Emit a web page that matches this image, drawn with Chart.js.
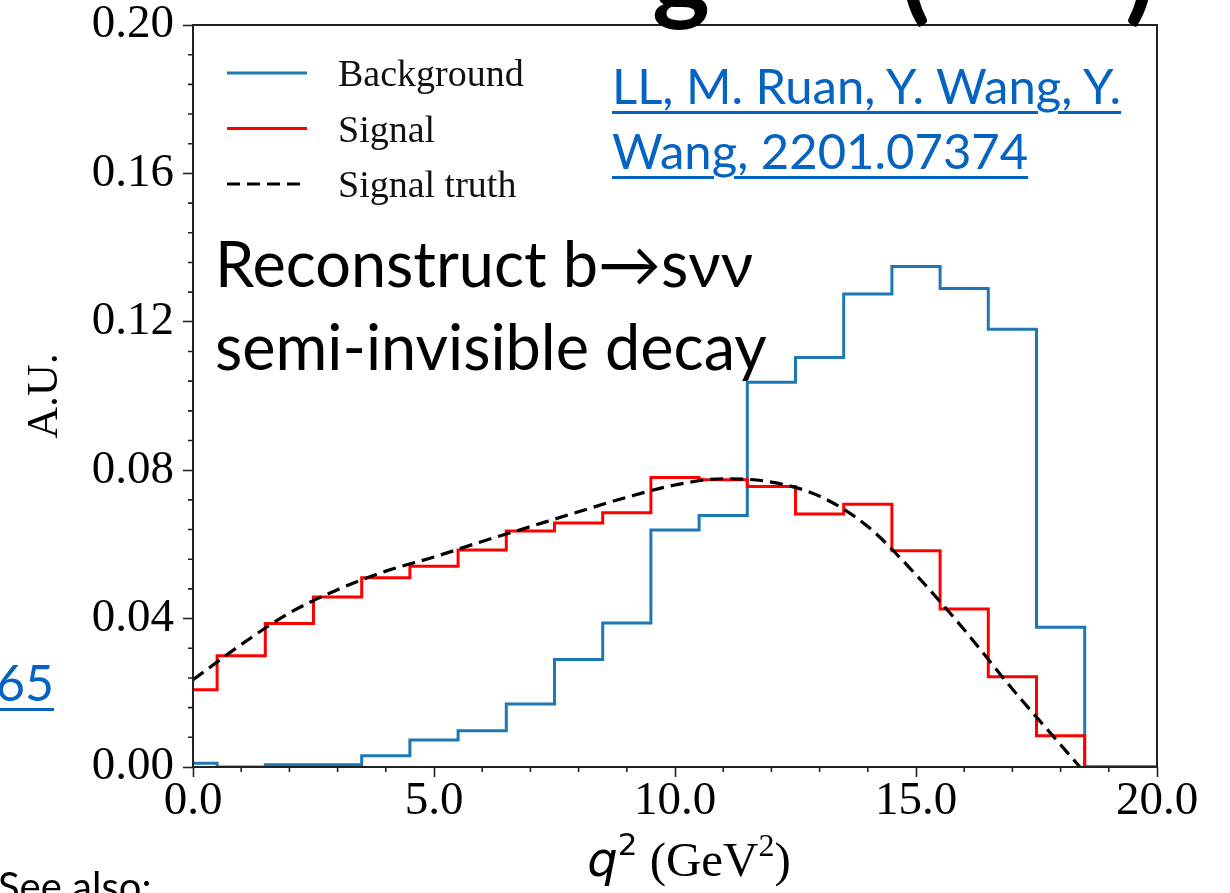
<!DOCTYPE html>
<html>
<head>
<meta charset="utf-8">
<script src="https://cdn.jsdelivr.net/npm/chart.js@4.4.0/dist/chart.umd.min.js"></script>
<style>
html, body { margin: 0; padding: 0; background: #fff; }
body { width: 1230px; height: 893px; position: relative; overflow: hidden; font-family: Lato, "Open Sans", sans-serif; }
#wrap { position: absolute; left: 0; top: 0; width: 1230px; height: 893px; }
.txt { position: absolute; white-space: nowrap; }
.link { color: #0563c1; text-decoration: underline; text-decoration-thickness: 3px; text-underline-offset: 7px; }
.head { font-weight: bold; font-size: 110px; line-height: 110px; top: -88px; color: #000; }
</style>
</head>
<body>
<div id="wrap"><canvas id="chart" width="1230" height="893"></canvas></div>

<!-- bits of the slide around the figure -->
<div class="txt head" style="left:652px">g</div>
<div class="txt head" style="left:900px">(</div>
<div class="txt head" style="left:1125px">)</div>
<div class="txt link" style="left:612px; top:53px; font-size:49px; line-height:65px">LL, M. Ruan, Y. Wang, Y.<br>Wang, 2201.07374</div>
<div class="txt" style="left:215px; top:221px; font-size:63px; line-height:83px; color:#000">Reconstruct b→sνν<br>semi-invisible decay</div>
<div class="txt link" style="left:-4px; top:650px; font-size:50px; line-height:65px">65</div>
<div class="txt" style="left:-2px; top:862px; font-size:40px; line-height:48px; color:#000">See also:</div>

<script>
// histogram bins are centred on integer q^2 values (edges at k +/- 0.5)
const binCenters = [0, 1, 2, 3, 4, 5, 6, 7, 8, 9, 10, 11, 12, 13, 14, 15, 16, 17, 18, 19, 20];
const background = [0.001, 0, 0.0006, 0.0006, 0.003, 0.0073, 0.0098, 0.017, 0.029, 0.0388, 0.0639, 0.0678,
    0.1037, 0.1104, 0.1275, 0.1349, 0.129, 0.118, 0.0377, 0, 0];
const signal = [0.0208, 0.0300, 0.0387, 0.0458, 0.0510, 0.0541, 0.0585, 0.0636, 0.0658, 0.0685, 0.0780, 0.0774,
    0.0756, 0.0682, 0.0708, 0.0583, 0.0426, 0.0243, 0.0084, 0, 0];

// dashed truth curve
const truthX = [0, 1, 2, 3, 4, 5, 6, 7, 8, 9, 10, 11, 12, 13, 14, 15, 16, 17, 18, 18.4];
const truthY = [0.0235, 0.0330, 0.0415, 0.0478, 0.0528, 0.0566, 0.0608, 0.0648, 0.0688, 0.0727, 0.0760, 0.0777,
    0.0768, 0.0730, 0.0648, 0.0518, 0.0370, 0.0210, 0.0060, 0];

const xTickValues = [0, 5, 10, 15, 20];
const yTickValues = [0, 0.04, 0.08, 0.12, 0.16, 0.20];

const serif = '"Liberation Serif", "DejaVu Serif", serif';
const mathSans = '"DejaVu Sans", sans-serif';
const axisColor = '#222';

const pts = (xs, ys) => xs.map((x, i) => ({x: x, y: ys[i]}));

// x title with mathtext-like q^2
const xTitleParts = [
    {text: 'q', font: 'italic 48px ' + mathSans, dy: 0},
    {text: '2', font: '31px ' + mathSans, dy: -21},
    {text: ' (GeV', font: '49px ' + serif, dy: 0},
    {text: '2', font: '32px ' + serif, dy: -20},
    {text: ')', font: '49px ' + serif, dy: 0}
];

// minor ticks, box frame, x title and the in-plot legend
const decorations = {
    id: 'decorations',
    afterDatasetsDraw(chart) {
        const {ctx, chartArea: a, scales: {x, y}} = chart;
        ctx.save();
        ctx.strokeStyle = axisColor;
        ctx.lineWidth = 1.6;
        ctx.beginPath();
        for (let v = 0; v <= 20; v++) {
            if (v % 5 === 0) continue;
            const px = x.getPixelForValue(v);
            ctx.moveTo(px, a.bottom);
            ctx.lineTo(px, a.bottom + 5);
        }
        for (let i = 0; i <= 25; i++) {
            if (i % 5 === 0) continue;
            const py = y.getPixelForValue(i * 0.008);
            ctx.moveTo(a.left - 5, py);
            ctx.lineTo(a.left, py);
        }
        ctx.stroke();
        ctx.lineWidth = 2;
        ctx.strokeRect(a.left, a.top, a.right - a.left, a.bottom - a.top);

        // x axis title
        ctx.fillStyle = '#000';
        ctx.textAlign = 'left';
        ctx.textBaseline = 'alphabetic';
        let total = 0;
        xTitleParts.forEach(p => { ctx.font = p.font; p.w = ctx.measureText(p.text).width; total += p.w; });
        let tx = (a.left + a.right) / 2 + 14 - total / 2;
        xTitleParts.forEach(p => {
            ctx.font = p.font;
            ctx.fillText(p.text, tx, 876 + p.dy);
            tx += p.w;
        });

        // legend
        ctx.font = '38px ' + serif;
        chart.data.datasets.forEach((ds, i) => {
            const ry = a.top + 48 + i * 55.5;
            const lx = a.left + 34;
            ctx.strokeStyle = ds.borderColor;
            ctx.lineWidth = ds.borderWidth;
            ctx.setLineDash(ds.borderDash || []);
            ctx.beginPath();
            ctx.moveTo(lx, ry);
            ctx.lineTo(lx + 80, ry);
            ctx.stroke();
            ctx.setLineDash([]);
            ctx.fillStyle = '#111';
            ctx.fillText(ds.label, lx + 111, ry + 13);
        });
        ctx.restore();
    }
};

new Chart(document.getElementById('chart'), {
    type: 'line',
    data: {
        datasets: [
            {
                label: 'Background',
                data: pts(binCenters, background),
                borderColor: '#1f77b4',
                borderWidth: 3,
                stepped: 'middle',
                pointRadius: 0,
                fill: false,
                clip: 0,
                order: 3
            },
            {
                label: 'Signal',
                data: pts(binCenters, signal),
                borderColor: '#ff0000',
                borderWidth: 3,
                stepped: 'middle',
                pointRadius: 0,
                fill: false,
                clip: 0,
                order: 2
            },
            {
                label: 'Signal truth',
                data: pts(truthX, truthY),
                borderColor: '#000000',
                borderWidth: 3.2,
                borderDash: [13, 7],
                cubicInterpolationMode: 'monotone',
                pointRadius: 0,
                fill: false,
                clip: 0,
                order: 1
            }
        ]
    },
    options: {
        responsive: false,
        devicePixelRatio: 1,
        animation: false,
        layout: {padding: {top: 25, right: 73, left: 0, bottom: 0}},
        plugins: {
            legend: {display: false},
            tooltip: {enabled: false}
        },
        scales: {
            x: {
                type: 'linear',
                min: 0,
                max: 20,
                afterBuildTicks: s => { s.ticks = xTickValues.map(v => ({value: v})); },
                afterFit: s => { s.height = 126; },
                ticks: {
                    callback: v => v.toFixed(1),
                    font: {family: serif, size: 47},
                    color: '#000',
                    padding: -4,
                    maxRotation: 0,
                    autoSkip: false
                },
                grid: {drawOnChartArea: false, tickLength: 10, tickColor: axisColor, tickWidth: 1.6},
                border: {display: false},
                title: {display: false}
            },
            y: {
                min: 0,
                max: 0.2,
                afterBuildTicks: s => { s.ticks = yTickValues.map(v => ({value: v})); },
                afterFit: s => { s.width = 193; s.paddingTop = 0; s.paddingBottom = 0; },
                ticks: {
                    callback: v => v.toFixed(2),
                    font: {family: serif, size: 47},
                    color: '#000',
                    padding: 9
                },
                grid: {drawOnChartArea: false, tickLength: 10, tickColor: axisColor, tickWidth: 1.6},
                border: {display: false},
                title: {
                    display: true,
                    text: 'A.U.',
                    font: {family: serif, size: 44},
                    color: '#000',
                    padding: {top: 19, bottom: 0}
                }
            }
        }
    },
    plugins: [decorations]
});
</script>
</body>
</html>
